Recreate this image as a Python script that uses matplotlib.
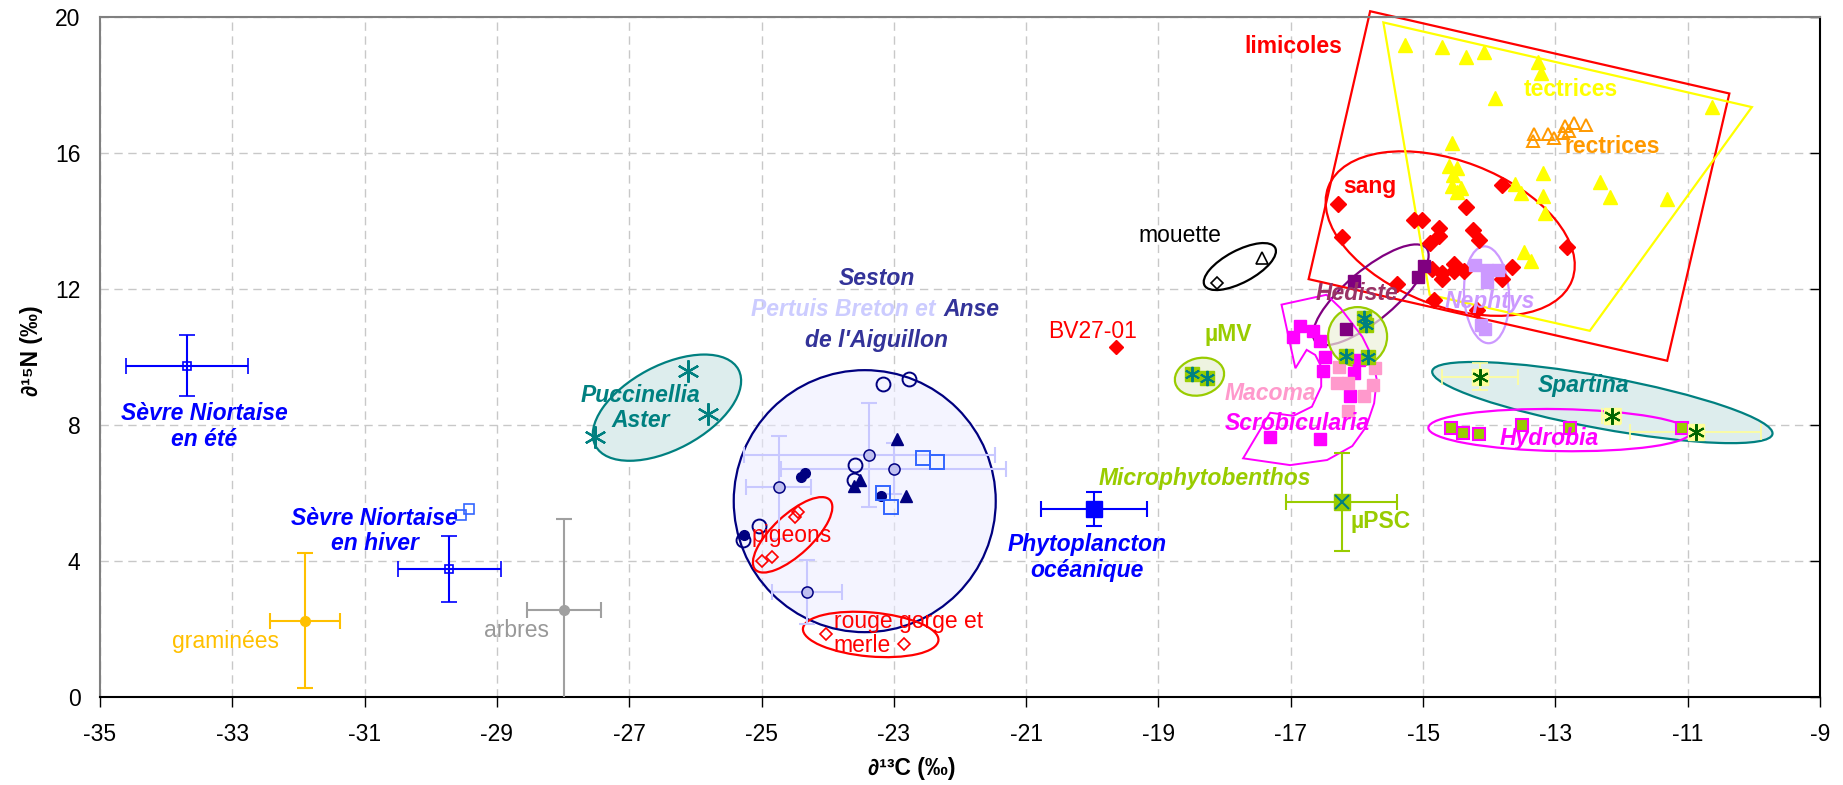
import numpy as np
import matplotlib.pyplot as plt
import matplotlib.transforms as mtransforms
from matplotlib.patches import Ellipse, Polygon

plt.rcParams['font.family'] = ['Liberation Sans', 'DejaVu Sans']
plt.rcParams['axes.unicode_minus'] = False

## Data (d13C, d15N)
sevre_ete = dict(x=-33.69, y=9.75, xerr=0.92, yerr=0.90)
sevre_hiver = dict(x=-29.72, y=3.76, xerr=0.78, yerr=0.98)
sevre_extra_x = [-29.55, -29.42]
sevre_extra_y = [5.34, 5.54]
graminees = dict(x=-31.90, y=2.25, xerr=0.53, yerr=1.98)
arbres = dict(x=-27.99, y=2.55, xerr=0.56, yerr=2.70)
phyto = dict(x=-19.97, y=5.53, xerr=0.80, yerr=0.49)
mpb_psc = dict(x=-16.23, y=5.73, xerr=0.84, yerr=1.44)

mu_mv_x = [-18.50, -18.27]
mu_mv_y = [9.50, 9.37]
mu_sed_x = [-15.90, -15.87, -16.17, -15.83]
mu_sed_y = [11.15, 10.95, 10.03, 10.00]

pucc_x = [-26.11, -25.81, -27.51]
pucc_y = [9.59, 8.33, 7.66]

seston_open_x = [-23.16, -22.77, -23.59, -23.60, -25.04, -25.28]
seston_open_y = [9.22, 9.34, 6.83, 6.39, 5.02, 4.63]
seston_fill_x = [-24.40, -24.34, -25.27, -23.19]
seston_fill_y = [6.48, 6.60, 4.77, 5.90]
seston_tri_x = [-22.95, -23.51, -23.60, -22.82]
seston_tri_y = [7.60, 6.39, 6.20, 5.90]
seston_mean_x = [-23.37, -23.00, -24.74, -24.31]
seston_mean_y = [7.12, 6.71, 6.17, 3.09]
seston_mean_xerr = [1.90, 1.70, 0.49, 0.53]
seston_mean_yerr = [1.52, 0.75, 1.52, 0.95]
seston_sq_x = [-22.56, -22.35, -23.16, -23.05]
seston_sq_y = [7.02, 6.90, 6.00, 5.60]

pigeons_x = [-24.45, -24.49, -25.00, -24.84]
pigeons_y = [5.43, 5.28, 4.01, 4.12]
merle_x = [-24.03, -22.84]
merle_y = [1.86, 1.55]
bv27_x, bv27_y = [-19.64], [10.29]
mouette_d_x, mouette_d_y = [-18.12], [12.19]
mouette_t_x, mouette_t_y = [-17.44], [12.92]

hediste_x = [-16.05, -14.99, -15.07, -16.16]
hediste_y = [12.23, 12.67, 12.34, 10.82]
scrob_x = [-16.86, -16.97, -16.66, -16.56, -16.48, -16.51, -16.05, -16.10, -17.32, -16.56, -15.97]
scrob_y = [10.92, 10.60, 10.77, 10.46, 10.01, 9.60, 9.54, 8.86, 7.66, 7.59, 9.90]
macoma_x = [-16.27, -16.30, -16.14, -15.90, -15.72, -15.75, -16.14]
macoma_y = [9.72, 9.23, 9.23, 8.86, 9.67, 9.18, 8.42]
nephtys_x = [-14.22, -14.04, -13.86, -14.04, -14.12, -14.07]
nephtys_y = [12.72, 12.57, 12.55, 12.20, 10.95, 10.82]
hydrobia_x = [-14.58, -14.40, -14.15, -13.51, -12.78, -11.09]
hydrobia_y = [7.92, 7.77, 7.73, 7.99, 7.92, 7.92]
spartina_x = [-14.14, -12.15, -10.88]
spartina_y = [9.42, 8.26, 7.79]
spartina_xerr = [0.58, 0.14, 0.99]
spartina_yerr = [0.40, 0.20, 0.15]

sang_x = [-16.28, -16.22, -15.14, -15.01, -13.81, -14.35, -14.76, -14.76, -14.90, -14.24, -14.16,
          -12.83, -15.39, -14.87, -14.72, -14.72, -14.54, -14.54, -14.38, -13.66, -13.81, -14.83, -14.19]
sang_y = [14.51, 13.52, 14.04, 14.04, 15.05, 14.40, 13.78, 13.57, 13.35, 13.75, 13.43,
          13.25, 12.15, 12.59, 12.47, 12.29, 12.74, 12.52, 12.52, 12.64, 12.29, 11.67, 11.39]
tect_x = [-15.28, -14.72, -14.35, -14.08, -13.27, -13.21, -13.91, -10.63, -14.56, -14.61, -14.49, -14.55, -14.57,
          -14.42, -14.49, -13.61, -13.52, -13.18, -13.18, -13.15, -12.32, -12.18, -11.31, -13.48, -13.37]
tect_y = [19.19, 19.12, 18.82, 18.97, 18.67, 18.35, 17.62, 17.35, 16.29, 15.61, 15.56, 15.36, 15.02,
          14.97, 14.84, 15.09, 14.82, 15.41, 14.75, 14.24, 15.14, 14.70, 14.65, 13.08, 12.81]
rect_x = [-13.32, -13.34, -13.11, -13.02, -12.85, -12.80, -12.88, -12.72, -12.53]
rect_y = [16.57, 16.34, 16.56, 16.44, 16.78, 16.64, 16.60, 16.88, 16.81]

## Group outlines
limicoles_poly = [(-15.80, 20.17), (-10.37, 17.75), (-11.31, 9.89), (-16.73, 12.29)]
tectrices_poly = [(-15.60, 19.84), (-10.03, 17.35), (-12.48, 10.77), (-14.90, 11.83)]
scrob_poly = [(-17.14, 11.54), (-16.46, 11.83), (-16.25, 11.44), (-15.92, 10.60), (-15.77, 10.01),
              (-15.70, 9.33), (-15.74, 8.64), (-15.86, 7.95), (-16.07, 7.38), (-16.45, 6.97),
              (-17.01, 6.82), (-17.72, 7.02), (-17.31, 8.36), (-16.96, 8.27), (-16.68, 8.54),
              (-16.54, 9.13), (-16.54, 9.72), (-16.63, 10.06), (-16.76, 10.21), (-16.93, 9.67)]
# ellipses: centre (data), width/height in pixels, angle, edge, face
ellipses = [
    ((-26.43, 8.51), 162, 84, 28, '#008080', '#DDEDED'),
    ((-23.44, 5.76), 262, 262, 0, '#000080', (0.92, 0.92, 1.0, 0.55)),
    ((-24.53, 4.77), 102, 40, 43, 'red', 'none'),
    ((-23.35, 1.84), 136, 44, -5, 'red', 'none'),
    ((-17.77, 12.66), 80, 32, 28, 'black', 'none'),
    ((-18.38, 9.42), 50, 37, 15, '#99CC00', '#EEF3E0'),
    ((-12.29, 8.66), 346, 52, -10.5, '#008080', '#DDEDED'),
    ((-12.94, 7.85), 262, 42, -1, '#FF00FF', 'none'),
    ((-14.59, 13.63), 261, 145, -21, 'red', 'none'),
    ((-15.79, 11.83), 145, 50, 40, '#800080', 'none'),
    ((-15.99, 10.60), 59, 59, 0, '#99CC00', (0.93, 0.95, 0.86, 0.7)),
    ((-14.04, 11.83), 45, 97, 3, '#CC99FF', 'none'),
]

labels = [
    ("Sèvre Niortaise\nen été", -33.42, 7.96, '#0000FF', 'bold', 'italic'),
    ("Sèvre Niortaise\nen hiver", -30.85, 4.88, '#0000FF', 'bold', 'italic'),
    ("graminées", -33.11, 1.64, '#FFC000', 'normal', 'normal'),
    ("arbres", -28.71, 1.96, '#999999', 'normal', 'normal'),
    ("Puccinellia\nAster", -26.83, 8.50, '#008080', 'bold', 'italic'),
    ("Seston", -23.26, 12.31, '#333399', 'bold', 'italic'),
    ("Pertuis Breton et", -23.76, 11.40, '#CCCCFF', 'bold', 'italic'),
    ("Anse", -21.82, 11.40, '#333399', 'bold', 'italic'),
    ("de l'Aiguillon", -23.26, 10.50, '#333399', 'bold', 'italic'),
    ("Phytoplancton\nocéanique", -20.08, 4.10, '#0000FF', 'bold', 'italic'),
    ("Microphytobenthos", -18.30, 6.43, '#99CC00', 'bold', 'italic'),
    ("µPSC", -15.65, 5.16, '#99CC00', 'bold', 'normal'),
    ("µMV", -17.95, 10.65, '#99CC00', 'bold', 'normal'),
    ("BV27-01", -20.00, 10.75, 'red', 'normal', 'normal'),
    ("mouette", -18.67, 13.56, 'black', 'normal', 'normal'),
    ("Macoma", -17.31, 8.93, '#FF99CC', 'bold', 'italic'),
    ("Scrobicularia", -16.90, 8.05, '#FF00FF', 'bold', 'italic'),
    ("Hediste", -16.00, 11.88, '#993366', 'bold', 'italic'),
    ("Nephtys", -13.99, 11.63, '#CC99FF', 'bold', 'italic'),
    ("Spartina", -12.57, 9.15, '#008080', 'bold', 'italic'),
    ("Hydrobia", -13.10, 7.60, '#FF00FF', 'bold', 'italic'),
    ("limicoles", -16.96, 19.13, 'red', 'bold', 'normal'),
    ("sang", -15.80, 15.01, 'red', 'bold', 'normal'),
    ("tectrices", -12.77, 17.86, '#FFFF00', 'bold', 'normal'),
    ("rectrices", -12.14, 16.20, '#FF9900', 'bold', 'normal'),
]
left_labels = [
    ("pigeons", -25.15, 4.76, 'red'),
    ("rouge gorge et\nmerle", -23.91, 1.87, 'red'),
]

fig = plt.figure(figsize=(18.43, 7.85), dpi=100)
ax = fig.add_axes([100/1843, 1-697/785, 1720/1843, 680/785])
ax.set_xlim(-35, -9)
ax.set_ylim(0, 20)
ax.set_xticks(np.arange(-35, -8, 2))
ax.set_yticks(np.arange(0, 21, 4))
ax.grid(True, color='#C8C8C8', linestyle=(0, (6, 4)), linewidth=1.0)
ax.set_axisbelow(True)
ax.tick_params(axis='x', direction='out', length=7, width=1, labelsize=16.5, pad=12)
ax.tick_params(axis='y', left=False, right=True, direction='in', length=7, width=1, labelsize=16.5, pad=14)
for s in ['left', 'top']:
    ax.spines[s].set_color('#808080')
for s in ax.spines.values():
    s.set_linewidth(1.5)
ax.set_xlabel("∂¹³C (‰)", fontsize=16.5, fontweight='bold')
ax.xaxis.set_label_coords(0.472, -0.088)
ax.set_ylabel("∂¹⁵N (‰)", fontsize=16.5, fontweight='bold')
ax.yaxis.set_label_coords(-0.033, 0.51)

# ellipses in pixel units around a data centre
for (cx, cy), w, h, ang, ec, fc in ellipses:
    tr = fig.dpi_scale_trans + mtransforms.ScaledTranslation(cx, cy, ax.transData)
    ax.add_patch(Ellipse((0, 0), w/100, h/100, angle=ang, transform=tr,
                         edgecolor=ec, facecolor=fc, lw=1.6, zorder=1))

ax.add_patch(Polygon(limicoles_poly, closed=True, fill=False, ec='red', lw=1.6, clip_on=False, zorder=2))
ax.add_patch(Polygon(tectrices_poly, closed=True, fill=False, ec='#FFFF00', lw=1.6, clip_on=False, zorder=2))
ax.add_patch(Polygon(scrob_poly, closed=True, fill=False, ec='#FF00FF', lw=1.4, zorder=2))

# sources with error bars
eb = dict(capsize=6, elinewidth=1.5, capthick=1.5, zorder=3)
ax.errorbar(**sevre_ete, fmt='s', ms=6, mfc='none', mec='#0000FF', mew=1.2, ecolor='#0000FF', **eb)
ax.errorbar(**sevre_hiver, fmt='s', ms=6, mfc='none', mec='#0000FF', mew=1.2, ecolor='#0000FF', **eb)
ax.plot(sevre_extra_x, sevre_extra_y, 's', ms=7, mfc='none', mec='#3366FF', mew=1.2, zorder=3)
ax.errorbar(**graminees, fmt='o', ms=7, color='#FFC000', ecolor='#FFC000', **eb)
ax.errorbar(**arbres, fmt='o', ms=7, color='#A0A0A0', ecolor='#A0A0A0', **eb)
ax.errorbar(**phyto, fmt='s', ms=12, color='#0000FF', ecolor='#0000FF', **eb)
ax.errorbar(**mpb_psc, fmt='s', ms=11, color='#99CC00', ecolor='#99CC00', **eb)
ax.plot(mpb_psc['x'], mpb_psc['y'], 'x', ms=10, mec='#008080', mew=1.5, zorder=4)

# microphytobenthos, plants
ax.plot(mu_mv_x, mu_mv_y, 's', ms=10, color='#99CC00', zorder=3)
ax.plot(mu_mv_x, mu_mv_y, marker=(6, 2, 0), ls='none', ms=11, mec='#008080', mew=1.4, zorder=4)
ax.plot(pucc_x, pucc_y, marker=(6, 2, 0), ls='none', ms=16, mec='#008080', mew=1.6, zorder=3)

# seston
ax.errorbar(seston_mean_x, seston_mean_y, xerr=seston_mean_xerr, yerr=seston_mean_yerr, fmt='none',
            ecolor='#C8C8FF', capsize=6, elinewidth=1.5, capthick=1.5, zorder=2)
ax.plot(seston_mean_x, seston_mean_y, 'o', ms=8, mfc='#C0C0F0', mec='#000080', mew=1.1, zorder=3)
ax.plot(seston_open_x, seston_open_y, 'o', ms=10, mfc='none', mec='#000080', mew=1.4, zorder=3)
ax.plot(seston_fill_x, seston_fill_y, 'o', ms=7, color='#000080', zorder=3)
ax.plot(seston_tri_x, seston_tri_y, '^', ms=9, color='#000080', zorder=3)
ax.plot(seston_sq_x, seston_sq_y, 's', ms=10, mfc='none', mec='#3366FF', mew=1.4, zorder=3)

# birds
ax.plot(pigeons_x, pigeons_y, 'D', ms=6, mfc='none', mec='red', mew=1.2, zorder=3)
ax.plot(merle_x, merle_y, 'D', ms=6, mfc='none', mec='red', mew=1.2, zorder=3)
ax.plot(bv27_x, bv27_y, 'D', ms=7, color='red', zorder=3)
ax.plot(mouette_d_x, mouette_d_y, 'D', ms=6, mfc='none', mec='black', mew=1.2, zorder=3)
ax.plot(mouette_t_x, mouette_t_y, '^', ms=8, mfc='none', mec='black', mew=1.2, zorder=3)
ax.plot(tect_x, tect_y, '^', ms=10, color='#FFFF00', zorder=3)
ax.plot(rect_x, rect_y, '^', ms=9, mfc='none', mec='#FF9900', mew=1.4, zorder=3)
ax.plot(sang_x, sang_y, 'D', ms=8, color='red', zorder=3)

# invertebrates
ax.plot(hediste_x, hediste_y, 's', ms=9, color='#800080', zorder=3)
ax.plot(scrob_x, scrob_y, 's', ms=9, color='#FF00FF', zorder=3)
ax.plot(macoma_x, macoma_y, 's', ms=9, color='#FF99CC', zorder=3)
ax.plot(nephtys_x, nephtys_y, 's', ms=9, color='#CC99FF', zorder=3)
ax.plot(mu_sed_x, mu_sed_y, 's', ms=10, color='#99CC00', zorder=4)
ax.plot(mu_sed_x, mu_sed_y, marker=(6, 2, 0), ls='none', ms=11, mec='#008080', mew=1.4, zorder=5)
ax.plot(hydrobia_x, hydrobia_y, 's', ms=9, mfc='#99CC00', mec='#FF00FF', mew=1.5, zorder=3)
ax.errorbar(spartina_x, spartina_y, xerr=spartina_xerr, yerr=spartina_yerr, fmt='none',
            ecolor='#FFFF99', capsize=6, elinewidth=1.2, capthick=1.2, zorder=2)
ax.plot(spartina_x, spartina_y, 's', ms=12, color='#FFFF99', zorder=3)
ax.plot(spartina_x, spartina_y, marker=(6, 2, 0), ls='none', ms=12, mec='#006600', mew=1.5, zorder=4)

for txt, x, y, c, w, st in labels:
    ax.text(x, y, txt, color=c, fontsize=16.5, fontweight=w, fontstyle=st, ha='center', va='center',
            multialignment='center', linespacing=1.15, zorder=6)
for txt, x, y, c in left_labels:
    ax.text(x, y, txt, color=c, fontsize=16.5, ha='left', va='center', linespacing=1.05, zorder=6)

fig.savefig('out.png', dpi=100)
